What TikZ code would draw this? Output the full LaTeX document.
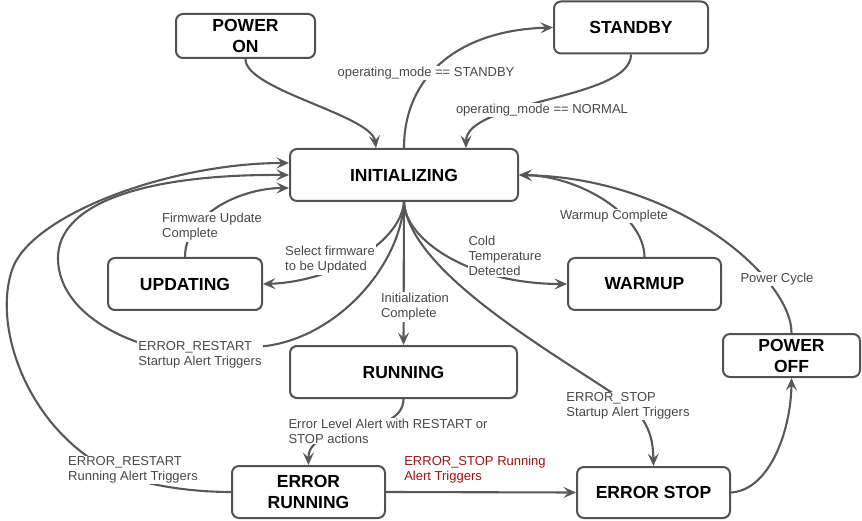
\documentclass[tikz,border=0pt]{standalone}
\usepackage{fontspec}
\setmainfont{Liberation Sans}
\usetikzlibrary{arrows.meta}
\definecolor{edgec}{RGB}{88,88,88}
\definecolor{boxc}{RGB}{82,82,82}
\definecolor{lblc}{RGB}{72,72,72}
\definecolor{redc}{RGB}{162,18,18}
\begin{document}
\begin{tikzpicture}[x=1pt,y=-1pt,
  state/.style={draw=boxc, line width=2pt, rounded corners=7pt, fill=white,
    font=\fontsize{17.5}{21}\selectfont\bfseries, align=center, inner sep=0pt},
  lbl/.style={fill=white, text=lblc, font=\fontsize{13}{15}\selectfont, align=left, inner sep=1pt},
  conn/.style={draw=edgec, line width=2.1pt, -{Stealth[length=12.5pt,width=11pt,inset=5pt]}}
]
\useasboundingbox (0,0) rectangle (862,521);

% states
\node[state, minimum width=139pt, minimum height=44pt] (pon) at (245.5,36) {POWER\\ON};
\node[state, minimum width=154pt, minimum height=52pt] (stb) at (631,27.5) {STANDBY};
\node[state, minimum width=228pt, minimum height=52pt] (init) at (404,175) {INITIALIZING};
\node[state, minimum width=154pt, minimum height=52pt] (upd) at (185,284) {UPDATING};
\node[state, minimum width=153pt, minimum height=52pt] (warm) at (644.5,284) {WARMUP};
\node[state, minimum width=227pt, minimum height=52pt] (run) at (403.5,372) {RUNNING};
\node[state, minimum width=137pt, minimum height=43pt] (poff) at (791.5,355.5) {POWER\\OFF};
\node[state, minimum width=153pt, minimum height=52pt] (erun) at (308.5,492) {ERROR\\RUNNING};
\node[state, minimum width=153pt, minimum height=51pt] (estop) at (653.5,492.5) {ERROR STOP};

% connectors
\draw[conn] (pon.south) .. controls (245,90) and (372,115) .. ([xshift=-28pt]init.north);
\draw[conn] (init.north) .. controls (404,75) and (460,30) .. (stb.west);
\draw[conn] (stb.south) .. controls (631,100) and (466,100) .. ([xshift=62pt]init.north);
\draw[conn] (init.south) .. controls (400,245) and (330,282) .. (upd.east);
\draw[conn] (upd.north) .. controls (185,215) and (240,188) .. ([yshift=-13pt]init.west);
\draw[conn] (init.south) .. controls (405,240) and (470,284) .. (warm.west);
\draw[conn] (warm.north) .. controls (644,215) and (580,176) .. (init.east);
\draw[conn] (init.south) -- (run.north);
\coordinate (c9) at (620,398);
\draw[conn] (init.south) .. controls (410,270) and (540,345) .. (c9) .. controls (650,418) and (653,440) .. (estop.north);
\coordinate (c10a) at (253,347);
\coordinate (c10b) at (137,342);
\coordinate (c10c) at (58,258);
\draw[conn] (init.south) .. controls (400,270) and (330,345) .. (c10a) -- (c10b)
  .. controls (90,325) and (58,295) .. (c10c) .. controls (58,205) and (140,174) .. (init.west);
\coordinate (c11a) at (110,470);
\coordinate (c11b) at (12,270);
\draw[conn] (erun.west) .. controls (190,492) and (140,485) .. (c11a)
  .. controls (30,430) and (-8,330) .. (c11b) .. controls (30,215) and (170,163) .. ([yshift=12pt]init.west);
\draw[conn] (run.south) .. controls (403,440) and (308,420) .. (erun.north);
\draw[conn] (erun.east) -- (estop.west);
\draw[conn] (estop.east) .. controls (770,490) and (791,430) .. (poff.south);
\draw[conn] (poff.north) .. controls (792,280) and (680,178) .. (init.east);

% labels
\node[lbl] (l2) at (426,73) {operating\_mode == STANDBY};
\node[lbl] (l3) at (542,110) {operating\_mode == NORMAL};
\node[lbl] (l4) at (330,260) {Select firmware\\to be Updated};
\node[lbl] (l5) at (212,227) {Firmware Update\\Complete};
\node[lbl] (l6) at (505,256) {Cold\\Temperature\\Detected};
\node[lbl] (l7) at (614,216) {Warmup Complete};
\node[lbl] (l8) at (415,307) {Initialization\\Complete};
\node[lbl] (l9) at (628,406) {ERROR\_STOP\\Startup Alert Triggers};
\node[lbl] (l10) at (200,355) {ERROR\_RESTART\\Startup Alert Triggers};
\node[lbl] (l12) at (388,431) {Error Level Alert with RESTART or\\STOP actions};
\node[lbl] (l11) at (133,470) {ERROR\_RESTART\\Running Alert Triggers};
\node[lbl, text=redc] (l13) at (475,470) {ERROR\_STOP Running\\Alert Triggers};
\node[lbl] (l15) at (777,279) {Power Cycle};
\end{tikzpicture}
\end{document}
